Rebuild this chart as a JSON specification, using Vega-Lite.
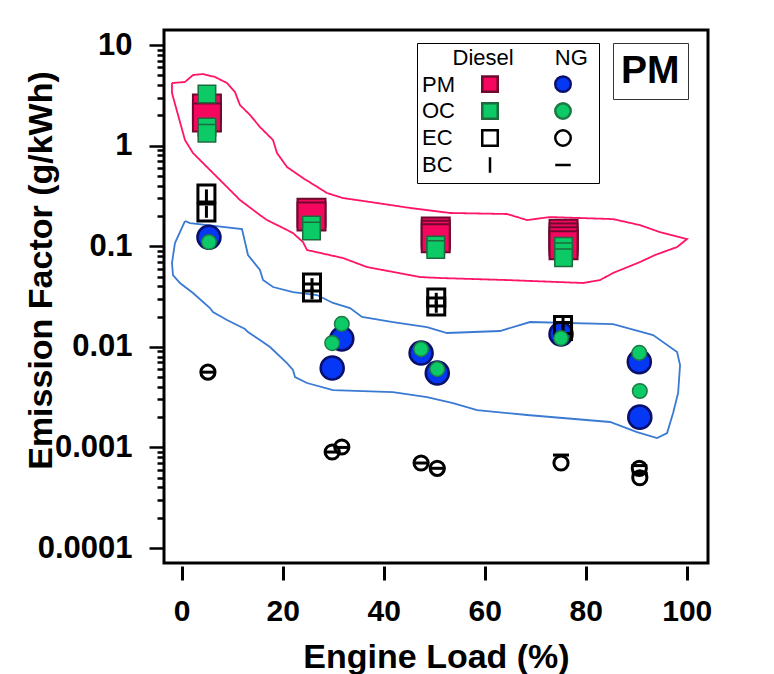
{
  "$schema": "https://vega.github.io/schema/vega-lite/v6.json",
  "width": 544,
  "height": 533,
  "autosize": {"type": "none"},
  "padding": {"left": 164, "top": 30, "right": 66, "bottom": 111},
  "background": "white",
  "config": {
    "view": {"stroke": "black", "strokeWidth": 3},
    "font": "Liberation Sans",
    "axis": {"grid": false, "labelFont": "Liberation Sans", "labelFontWeight": "bold", "labelColor": "black",
      "titleFont": "Liberation Sans", "titleFontWeight": "bold", "titleColor": "black", "tickColor": "black", "domain": false}
  },
  "datasets": {
    "points": [
      {"load": 5.0, "ef": 2.34, "key": "Diesel PM"},
      {"load": 5.0, "ef": 1.9, "key": "Diesel PM"},
      {"load": 25.7, "ef": 0.215, "key": "Diesel PM"},
      {"load": 25.7, "ef": 0.197, "key": "Diesel PM"},
      {"load": 50.3, "ef": 0.14, "key": "Diesel PM"},
      {"load": 50.3, "ef": 0.13, "key": "Diesel PM"},
      {"load": 50.3, "ef": 0.12, "key": "Diesel PM"},
      {"load": 75.6, "ef": 0.133, "key": "Diesel PM"},
      {"load": 75.6, "ef": 0.122, "key": "Diesel PM"},
      {"load": 75.6, "ef": 0.112, "key": "Diesel PM"},
      {"load": 75.6, "ef": 0.102, "key": "Diesel PM"},
      {"load": 5.0, "ef": 3.25, "key": "Diesel OC"},
      {"load": 5.0, "ef": 1.53, "key": "Diesel OC"},
      {"load": 5.0, "ef": 1.33, "key": "Diesel OC"},
      {"load": 25.7, "ef": 0.163, "key": "Diesel OC"},
      {"load": 25.7, "ef": 0.142, "key": "Diesel OC"},
      {"load": 50.3, "ef": 0.103, "key": "Diesel OC"},
      {"load": 50.3, "ef": 0.093, "key": "Diesel OC"},
      {"load": 75.6, "ef": 0.1, "key": "Diesel OC"},
      {"load": 75.6, "ef": 0.088, "key": "Diesel OC"},
      {"load": 75.6, "ef": 0.077, "key": "Diesel OC"},
      {"load": 5.4, "ef": 0.123, "key": "NG PM"},
      {"load": 29.8, "ef": 0.00615, "key": "NG PM"},
      {"load": 31.7, "ef": 0.012, "key": "NG PM"},
      {"load": 47.4, "ef": 0.0087, "key": "NG PM"},
      {"load": 50.6, "ef": 0.0055, "key": "NG PM"},
      {"load": 75.1, "ef": 0.0134, "key": "NG PM"},
      {"load": 90.6, "ef": 0.0071, "key": "NG PM"},
      {"load": 90.7, "ef": 0.002, "key": "NG PM"},
      {"load": 4.9, "ef": 0.334, "key": "Diesel EC"},
      {"load": 4.9, "ef": 0.216, "key": "Diesel EC"},
      {"load": 25.8, "ef": 0.0435, "key": "Diesel EC"},
      {"load": 25.8, "ef": 0.0347, "key": "Diesel EC"},
      {"load": 50.4, "ef": 0.0309, "key": "Diesel EC"},
      {"load": 50.4, "ef": 0.0252, "key": "Diesel EC"},
      {"load": 75.5, "ef": 0.0165, "key": "Diesel EC"},
      {"load": 75.5, "ef": 0.0144, "key": "Diesel EC"},
      {"load": 4.9, "ef": 0.32, "key": "Diesel BC"},
      {"load": 4.9, "ef": 0.22, "key": "Diesel BC"},
      {"load": 25.8, "ef": 0.042, "key": "Diesel BC"},
      {"load": 25.8, "ef": 0.034, "key": "Diesel BC"},
      {"load": 50.4, "ef": 0.03, "key": "Diesel BC"},
      {"load": 50.4, "ef": 0.025, "key": "Diesel BC"},
      {"load": 75.5, "ef": 0.018, "key": "Diesel BC"},
      {"load": 75.5, "ef": 0.0145, "key": "Diesel BC"},
      {"load": 5.4, "ef": 0.11, "key": "NG OC"},
      {"load": 31.7, "ef": 0.0169, "key": "NG OC"},
      {"load": 29.8, "ef": 0.0109, "key": "NG OC"},
      {"load": 47.4, "ef": 0.0095, "key": "NG OC"},
      {"load": 50.6, "ef": 0.006, "key": "NG OC"},
      {"load": 75.1, "ef": 0.0122, "key": "NG OC"},
      {"load": 90.6, "ef": 0.0087, "key": "NG OC"},
      {"load": 90.7, "ef": 0.00364, "key": "NG OC"},
      {"load": 5.2, "ef": 0.0056, "key": "NG EC"},
      {"load": 29.8, "ef": 0.0009, "key": "NG EC"},
      {"load": 31.7, "ef": 0.00101, "key": "NG EC"},
      {"load": 47.4, "ef": 0.0007, "key": "NG EC"},
      {"load": 50.6, "ef": 0.00062, "key": "NG EC"},
      {"load": 75.1, "ef": 0.0007, "key": "NG EC"},
      {"load": 90.6, "ef": 0.00062, "key": "NG EC"},
      {"load": 90.7, "ef": 0.0005, "key": "NG EC"},
      {"load": 5.2, "ef": 0.0056, "key": "NG BC"},
      {"load": 29.8, "ef": 0.0009, "key": "NG BC"},
      {"load": 31.7, "ef": 0.001, "key": "NG BC"},
      {"load": 47.4, "ef": 0.0007, "key": "NG BC"},
      {"load": 50.6, "ef": 0.00062, "key": "NG BC"},
      {"load": 75.1, "ef": 0.00084, "key": "NG BC"},
      {"load": 90.6, "ef": 0.00066, "key": "NG BC"},
      {"load": 90.7, "ef": 0.00055, "key": "NG BC"}
    ],
    "outlines": [
      {"group": "Diesel", "i": 1, "load": -1.92, "ef": 4.19},
      {"group": "Diesel", "i": 2, "load": 0.65, "ef": 4.29},
      {"group": "Diesel", "i": 3, "load": 2.24, "ef": 5.03},
      {"group": "Diesel", "i": 4, "load": 4.22, "ef": 5.15},
      {"group": "Diesel", "i": 5, "load": 6.59, "ef": 4.81},
      {"group": "Diesel", "i": 6, "load": 8.97, "ef": 4.19},
      {"group": "Diesel", "i": 7, "load": 10.55, "ef": 3.41},
      {"group": "Diesel", "i": 8, "load": 11.54, "ef": 2.53},
      {"group": "Diesel", "i": 9, "load": 13.52, "ef": 2.02},
      {"group": "Diesel", "i": 10, "load": 15.5, "ef": 1.53},
      {"group": "Diesel", "i": 11, "load": 18.08, "ef": 1.137},
      {"group": "Diesel", "i": 12, "load": 18.87, "ef": 0.844},
      {"group": "Diesel", "i": 13, "load": 20.85, "ef": 0.613},
      {"group": "Diesel", "i": 14, "load": 24.02, "ef": 0.476},
      {"group": "Diesel", "i": 15, "load": 28.77, "ef": 0.338},
      {"group": "Diesel", "i": 16, "load": 31.94, "ef": 0.301},
      {"group": "Diesel", "i": 17, "load": 38.67, "ef": 0.269},
      {"group": "Diesel", "i": 18, "load": 45.2, "ef": 0.24},
      {"group": "Diesel", "i": 19, "load": 53.13, "ef": 0.214},
      {"group": "Diesel", "i": 20, "load": 64.42, "ef": 0.209},
      {"group": "Diesel", "i": 21, "load": 68.38, "ef": 0.182},
      {"group": "Diesel", "i": 22, "load": 72.93, "ef": 0.195},
      {"group": "Diesel", "i": 23, "load": 85.41, "ef": 0.186},
      {"group": "Diesel", "i": 24, "load": 90.75, "ef": 0.162},
      {"group": "Diesel", "i": 25, "load": 94.71, "ef": 0.138},
      {"group": "Diesel", "i": 26, "load": 100.06, "ef": 0.118},
      {"group": "Diesel", "i": 27, "load": 98.08, "ef": 0.0982},
      {"group": "Diesel", "i": 28, "load": 93.72, "ef": 0.0818},
      {"group": "Diesel", "i": 29, "load": 90.75, "ef": 0.0697},
      {"group": "Diesel", "i": 30, "load": 85.41, "ef": 0.0542},
      {"group": "Diesel", "i": 31, "load": 82.83, "ef": 0.0461},
      {"group": "Diesel", "i": 32, "load": 79.47, "ef": 0.0431},
      {"group": "Diesel", "i": 33, "load": 64.42, "ef": 0.0461},
      {"group": "Diesel", "i": 34, "load": 51.15, "ef": 0.0483},
      {"group": "Diesel", "i": 35, "load": 47.19, "ef": 0.0494},
      {"group": "Diesel", "i": 36, "load": 36.69, "ef": 0.0621},
      {"group": "Diesel", "i": 37, "load": 31.94, "ef": 0.0763},
      {"group": "Diesel", "i": 38, "load": 24.81, "ef": 0.0917},
      {"group": "Diesel", "i": 39, "load": 24.02, "ef": 0.11},
      {"group": "Diesel", "i": 40, "load": 22.04, "ef": 0.135},
      {"group": "Diesel", "i": 41, "load": 20.06, "ef": 0.152},
      {"group": "Diesel", "i": 42, "load": 16.89, "ef": 0.182},
      {"group": "Diesel", "i": 43, "load": 15.5, "ef": 0.204},
      {"group": "Diesel", "i": 44, "load": 11.54, "ef": 0.288},
      {"group": "Diesel", "i": 45, "load": 8.97, "ef": 0.388},
      {"group": "Diesel", "i": 46, "load": 6.2, "ef": 0.534},
      {"group": "Diesel", "i": 47, "load": 2.24, "ef": 0.844},
      {"group": "Diesel", "i": 48, "load": 0.65, "ef": 1.137},
      {"group": "Diesel", "i": 49, "load": -1.92, "ef": 3.33},
      {"group": "Diesel", "i": 50, "load": -1.92, "ef": 4.19},
      {"group": "NG", "i": 1, "load": 0.65, "ef": 0.178},
      {"group": "NG", "i": 2, "load": 1.64, "ef": 0.17},
      {"group": "NG", "i": 3, "load": 11.94, "ef": 0.148},
      {"group": "NG", "i": 4, "load": 13.13, "ef": 0.0818},
      {"group": "NG", "i": 5, "load": 15.5, "ef": 0.058},
      {"group": "NG", "i": 6, "load": 16.1, "ef": 0.0461},
      {"group": "NG", "i": 7, "load": 18.08, "ef": 0.0393},
      {"group": "NG", "i": 8, "load": 22.04, "ef": 0.035},
      {"group": "NG", "i": 9, "load": 26.79, "ef": 0.0327},
      {"group": "NG", "i": 10, "load": 29.96, "ef": 0.0273},
      {"group": "NG", "i": 11, "load": 33.33, "ef": 0.0243},
      {"group": "NG", "i": 12, "load": 35.7, "ef": 0.0198},
      {"group": "NG", "i": 13, "load": 41.84, "ef": 0.01764},
      {"group": "NG", "i": 14, "load": 48.57, "ef": 0.01573},
      {"group": "NG", "i": 15, "load": 52.53, "ef": 0.01372},
      {"group": "NG", "i": 16, "load": 63.03, "ef": 0.01436},
      {"group": "NG", "i": 17, "load": 68.97, "ef": 0.01764},
      {"group": "NG", "i": 18, "load": 85.41, "ef": 0.01685},
      {"group": "NG", "i": 19, "load": 93.33, "ef": 0.0131},
      {"group": "NG", "i": 20, "load": 98.08, "ef": 0.00888},
      {"group": "NG", "i": 21, "load": 98.67, "ef": 0.00659},
      {"group": "NG", "i": 22, "load": 98.28, "ef": 0.00347},
      {"group": "NG", "i": 23, "load": 97.29, "ef": 0.0022},
      {"group": "NG", "i": 24, "load": 96.1, "ef": 0.00139},
      {"group": "NG", "i": 25, "load": 94.12, "ef": 0.00124},
      {"group": "NG", "i": 26, "load": 90.16, "ef": 0.00142},
      {"group": "NG", "i": 27, "load": 84.81, "ef": 0.00179},
      {"group": "NG", "i": 28, "load": 68.38, "ef": 0.0021},
      {"group": "NG", "i": 29, "load": 58.48, "ef": 0.00235},
      {"group": "NG", "i": 30, "load": 53.72, "ef": 0.00276},
      {"group": "NG", "i": 31, "load": 48.57, "ef": 0.00317},
      {"group": "NG", "i": 32, "load": 41.84, "ef": 0.00355},
      {"group": "NG", "i": 33, "load": 29.96, "ef": 0.00372},
      {"group": "NG", "i": 34, "load": 24.81, "ef": 0.00437},
      {"group": "NG", "i": 35, "load": 22.44, "ef": 0.00501},
      {"group": "NG", "i": 36, "load": 22.04, "ef": 0.00588},
      {"group": "NG", "i": 37, "load": 20.85, "ef": 0.0069},
      {"group": "NG", "i": 38, "load": 17.49, "ef": 0.00995},
      {"group": "NG", "i": 39, "load": 15.5, "ef": 0.01168},
      {"group": "NG", "i": 40, "load": 13.13, "ef": 0.01403},
      {"group": "NG", "i": 41, "load": 12.54, "ef": 0.01503},
      {"group": "NG", "i": 42, "load": 8.97, "ef": 0.01847},
      {"group": "NG", "i": 43, "load": 6.2, "ef": 0.0222},
      {"group": "NG", "i": 44, "load": 5.6, "ef": 0.0243},
      {"group": "NG", "i": 45, "load": 2.24, "ef": 0.0343},
      {"group": "NG", "i": 46, "load": -0.34, "ef": 0.0431},
      {"group": "NG", "i": 47, "load": -1.72, "ef": 0.0517},
      {"group": "NG", "i": 48, "load": -1.92, "ef": 0.0681},
      {"group": "NG", "i": 49, "load": -1.33, "ef": 0.1076},
      {"group": "NG", "i": 50, "load": 0.65, "ef": 0.178}
    ]
  },
  "layer": [
    {
      "data": {"name": "outlines"},
      "transform": [{"filter": "datum.group == 'Diesel'"}],
      "mark": {"type": "line", "color": "#ff1468", "strokeWidth": 1.8, "clip": true},
      "encoding": {
        "x": {"field": "load", "type": "quantitative", "scale": {"domain": [-3.5, 104.2], "nice": false, "zero": false},
          "axis": {"title": "Engine Load (%)", "values": [0, 20, 40, 60, 80, 100], "offset": 3,
            "tickSize": 14, "tickWidth": 3, "labelPadding": 16, "labelFontSize": 30,
            "titleFontSize": 34, "titleBaseline": "alphabetic", "titleY": 101}},
        "y": {"field": "ef", "type": "quantitative", "scale": {"type": "log", "domain": [0.000071, 14.1], "nice": false},
          "axis": {"orient": "left", "values": [0.0002,0.0003,0.0004,0.0005,0.0006,0.0007,0.0008,0.0009,0.002,0.003,0.004,0.005,0.006,0.007,0.008,0.009,0.02,0.03,0.04,0.05,0.06,0.07,0.08,0.09,0.2,0.3,0.4,0.5,0.6,0.7,0.8,0.9,2,3,4,5,6,7,8,9],
            "labels": false, "title": null, "tickSize": 7, "tickWidth": 2.5}},
        "order": {"field": "i", "type": "quantitative"},
        "strokeDash": {"datum": "PM", "scale": {"range": [[1, 0]]},
          "legend": {"orient": "none", "legendX": 449, "legendY": 13, "title": null, "symbolType": "circle",
            "labelFontSize": 39, "labelFontWeight": "bold", "labelFont": "Liberation Sans", "labelColor": "black",
            "symbolSize": 0, "symbolStrokeWidth": 0, "symbolOpacity": 0, "labelOffset": -39,
            "padding": 8, "strokeColor": "#333333"}}
      }
    },
    {
      "data": {"name": "outlines"},
      "transform": [{"filter": "datum.group == 'NG'"}],
      "mark": {"type": "line", "color": "#3b7ad2", "strokeWidth": 1.8, "clip": true},
      "encoding": {
        "x": {"field": "load", "type": "quantitative",
          "axis": {"title": "Engine Load (%)", "values": [0, 20, 40, 60, 80, 100], "offset": 3,
            "tickSize": 14, "tickWidth": 3, "labelPadding": 16, "labelFontSize": 30,
            "titleFontSize": 34, "titleBaseline": "alphabetic", "titleY": 101}},
        "y": {"field": "ef", "type": "quantitative", "axis": null},
        "order": {"field": "i", "type": "quantitative"}
      }
    },
    {
      "data": {"name": "points"},
      "mark": {"type": "point", "filled": true, "opacity": 1},
      "encoding": {
        "x": {"field": "load", "type": "quantitative",
          "axis": {"title": "Engine Load (%)", "values": [0, 20, 40, 60, 80, 100], "offset": 3,
            "tickSize": 14, "tickWidth": 3, "labelPadding": 16, "labelFontSize": 30,
            "titleFontSize": 34, "titleBaseline": "alphabetic", "titleY": 101}},
        "y": {"field": "ef", "type": "quantitative",
          "axis": {"orient": "left", "title": "Emission Factor (g/kWh)", "values": [0.0001, 0.001, 0.01, 0.1, 1, 10], "format": "~g",
            "tickSize": 15, "tickWidth": 2.5, "labelPadding": 17, "labelFontSize": 31,
            "titleFontSize": 34, "titleAngle": -90, "titleBaseline": "alphabetic", "titleX": -113, "titleY": 240}},
        "shape": {"field": "key", "type": "nominal",
          "scale": {"domain": ["PM", "OC", "EC", "BC", "Diesel PM", "Diesel OC", "Diesel EC", "Diesel BC", "NG PM", "NG OC", "NG EC", "NG BC"],
            "range": ["M0,0", "M0,0", "M0,0", "M0,0", "square", "square", "square", "M0,-1V1", "circle", "circle", "circle", "M-1,0H1"]},
          "legend": {"orient": "none", "legendX": 253, "legendY": 13, "columns": 3, "columnPadding": 22, "rowPadding": 1,
            "title": "\u200b\u00a0\u00a0\u00a0\u00a0\u00a0Diesel\u00a0\u00a0\u00a0\u00a0\u00a0\u00a0\u2009NG\u00a0\u200b",
            "titleFontSize": 22, "titleFontWeight": "normal", "titleFont": "Liberation Sans", "titleColor": "black", "titlePadding": 3,
            "labelFontSize": 22, "labelFont": "Liberation Sans", "labelColor": "black", "labelOffset": -22,
            "labelExpr": "length(datum.label) == 2 ? datum.label : (indexof(datum.label, 'Diesel') == 0 ? '\u200b\u00a0\u00a0\u00a0\u00a0\u00a0\u00a0\u00a0\u00a0\u200b' : '')",
            "symbolSize": 240, "symbolStrokeWidth": 2.5, "strokeColor": "black", "padding": 5}},
        "fill": {"field": "key", "type": "nominal",
          "scale": {"domain": ["PM", "OC", "EC", "BC", "Diesel PM", "Diesel OC", "Diesel EC", "Diesel BC", "NG PM", "NG OC", "NG EC", "NG BC"],
            "range": ["transparent", "transparent", "transparent", "transparent", "#f5075f", "#0ccb66", "transparent", "transparent", "#0538f5", "#0ccb66", "transparent", "transparent"]}},
        "stroke": {"field": "key", "type": "nominal",
          "scale": {"domain": ["PM", "OC", "EC", "BC", "Diesel PM", "Diesel OC", "Diesel EC", "Diesel BC", "NG PM", "NG OC", "NG EC", "NG BC"],
            "range": ["transparent", "transparent", "transparent", "transparent", "#6e0a2e", "#1d6b3d", "black", "black", "#0a0f6b", "#1d7a45", "black", "black"]}},
        "size": {
          "condition": [
            {"test": "datum.key == 'Diesel PM'", "value": 784},
            {"test": "datum.key == 'NG PM'", "value": 531},
            {"test": "datum.key == 'Diesel OC'", "value": 306},
            {"test": "datum.key == 'NG OC'", "value": 214},
            {"test": "datum.key == 'Diesel EC'", "value": 289},
            {"test": "datum.key == 'NG EC'", "value": 201},
            {"test": "datum.key == 'Diesel BC'", "value": 144}
          ],
          "value": 256},
        "strokeWidth": {
          "condition": [
            {"test": "datum.key == 'Diesel PM'", "value": 2},
            {"test": "datum.key == 'NG PM'", "value": 2.5},
            {"test": "datum.key == 'Diesel OC' || datum.key == 'NG OC'", "value": 1.5}
          ],
          "value": 3}
      }
    }
  ],
  "resolve": {"axis": {"y": "independent"}}
}
